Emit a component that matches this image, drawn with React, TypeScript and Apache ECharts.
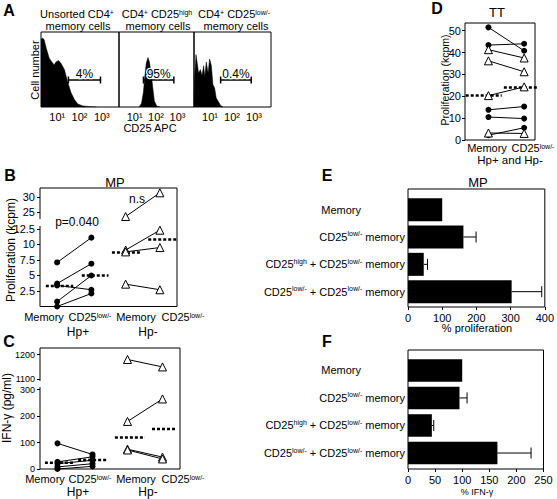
import React, { useEffect, useRef } from 'react';
import * as echarts from 'echarts';

const FONT = '"Liberation Sans", Arial, Helvetica, sans-serif';

// ---------- Panel A: CD25 APC histograms ([log10 CD25 APC, % of max count])
const histUnsorted: number[][] = [
  [0.27, 90], [0.33, 92], [0.41, 90], [0.51, 78], [0.64, 65], [0.76, 60], [0.86, 56], [0.94, 60],
  [1.06, 62], [1.17, 58], [1.32, 50], [1.47, 33], [1.62, 19], [1.77, 10], [1.92, 4], [2.15, 1.5],
  [2.45, 0.5], [2.76, 0],
];
const histHigh: number[][] = [
  [1.21, 0], [1.32, 5], [1.41, 20], [1.47, 40], [1.54, 58], [1.62, 66], [1.69, 60], [1.77, 45],
  [1.85, 25], [1.92, 8], [2.04, 1], [2.19, 0],
];
const histLow: number[][] = [
  [0.27, 0], [0.3, 40], [0.36, 70], [0.42, 58], [0.48, 45], [0.56, 50], [0.63, 42], [0.71, 55],
  [0.76, 40], [0.83, 60], [0.91, 45], [0.98, 64], [1.06, 55], [1.13, 30], [1.21, 25], [1.28, 12],
  [1.36, 8], [1.48, 2], [1.59, 0],
];
const histGateStart = [1.5, 1.41, 1.48];
const histGateEnd = [2.94, 2.83, 2.87];
const histGateLevel = [36, 36, 36];
const histGateLabels = ['4%', '95%', '0.4%'];
const histTickValues = [1, 2, 3];
const histTickLabels = ['10¹', '10²', '10³'];

// ---------- Panel B: MP proliferation (kcpm)
const bHpPosMemory = [7.1, 3.7, 3.4, 0.8, 0.0];
const bHpPosCd25 = [11.1, 6.9, 2.7, 5.0, 2.1];
const bHpNegMemory = [23.6, 9.1, 8.8, 3.6];
const bHpNegCd25 = [31.5, 12.3, 9.5, 2.7];
const bMedians = [3.3, 5.0, 8.7, 10.8];
const bMedianSpan = [[0.17, 0.97], [1.22, 2.0], [2.1, 2.94], [3.16, 3.98]];
const bTickValues = [2.5, 5, 7.5, 10, 12.5, 25, 30];
const bTickLabels = ['2.5', '5', '7.5', '10', '12.5', '25', '30'];

// ---------- Panel C: IFN-γ (pg/ml)
const cHpPosMemory = [97, 27, 20, 8, 0];
const cHpPosCd25 = [55, 46, 33, 20, 10];
const cHpNegMemory = [1180, 180, 75, 72];
const cHpNegCd25 = [1150, 265, 45, 38];
const cMedians = [24, 34, 119, 151];
const cMedianSpan = [[0.14, 0.94], [1.09, 1.94], [2.14, 3.0], [3.2, 3.91]];
const cTickValues = [0, 100, 200, 300, 1100, 1200];
const cTickLabels = ['0', '100', '200', '300', '1100', '1200'];

// ---------- Panel D: TT proliferation (kcpm)
const dMemory = [51.5, 43.4, 41.3, 36.2, 20.3, 13.8, 10.5, 3.2, 2.2];
const dCd25 = [40.8, 44.0, 37.5, 31.2, 24.3, 15.3, 9.8, 3.0, 5.6];
const dHp = ['+', '+', '-', '-', '-', '+', '+', '-', '+'];
const dMedians = [20.3, 24.0];
const dMedianSpan = [[0.02, 1.05], [1.11, 2.09]];
const dTickValues = [0, 10, 20, 30, 40, 50];

// ---------- Panels E and F: bars
const barLabels = [
  '{m|Memory}',
  'CD25{s|low/-} memory',
  'CD25{s|high} + CD25{s|low/-} memory',
  'CD25{s|low/-} + CD25{s|low/-} memory',
];
const eValues = [100, 162, 46, 303];
const eErrors = [0, 37, 11, 88];
const eTickValues = [0, 100, 200, 300, 400];
const fValues = [100, 95, 44, 165];
const fErrors = [0, 14, 3.5, 62];
const fTickValues = [0, 50, 100, 150, 200, 250];

// broken-axis transforms
const tB = (v: number) => (v <= 12.5 ? v : 15.18 + (v - 25) * 0.484);
const tC = (v: number) => (v <= 300 ? v : 339.2 + (v - 1100) * 0.94);

const supRich = {
  s: { fontSize: 7, fontFamily: FONT, verticalAlign: 'top', lineHeight: 8, color: '#000' },
  m: { fontSize: 11, fontFamily: FONT, padding: [0, 44, 0, 0], color: '#000' },
};

function T(text: string, x: number, y: number, o: any = {}) {
  return {
    type: 'text',
    x,
    y,
    rotation: o.rot || 0,
    silent: true,
    style: {
      text,
      fill: '#000',
      fontSize: o.size || 11,
      fontFamily: FONT,
      fontWeight: o.bold ? 'bold' : 'normal',
      align: o.align || 'center',
      verticalAlign: 'middle',
      lineHeight: o.lh,
      rich: o.rich,
    },
  };
}

function pairSeries(gi: number, x0: number, x1: number, a: number, b: number, hp: string) {
  const pos = hp === '+';
  return {
    type: 'line',
    xAxisIndex: gi,
    yAxisIndex: gi,
    data: [[x0, a], [x1, b]],
    symbol: pos ? 'circle' : 'triangle',
    symbolSize: pos ? 6 : 8,
    showSymbol: true,
    itemStyle: pos ? { color: '#000' } : { color: '#fff', borderColor: '#000', borderWidth: 1 },
    lineStyle: { color: '#000', width: 1 },
    clip: false,
    silent: true,
    z: pos ? 3 : 4,
  };
}

function medianSeries(gi: number, span: number[], v: number) {
  return {
    type: 'line',
    xAxisIndex: gi,
    yAxisIndex: gi,
    data: [[span[0], v], [span[1], v]],
    symbol: 'none',
    lineStyle: { color: '#000', width: 2.5, type: [3, 2] },
    clip: false,
    silent: true,
    z: 2,
  };
}

function barSeries(gi: number, values: number[], errors: number[], barH: number, capH: number) {
  return {
    type: 'custom',
    xAxisIndex: gi,
    yAxisIndex: gi,
    data: values.map((v, i) => [v, i, errors[i]]),
    encode: { x: 0, y: 1 },
    clip: false,
    silent: true,
    renderItem: (_p: any, api: any) => {
      const v = api.value(0);
      const i = api.value(1);
      const e = api.value(2);
      const p0 = api.coord([0, i]);
      const p1 = api.coord([v, i]);
      const children: any[] = [
        { type: 'rect', shape: { x: p0[0], y: p0[1] - barH / 2, width: p1[0] - p0[0], height: barH }, style: { fill: '#000' } },
      ];
      if (e > 0) {
        const pe = api.coord([v + e, i]);
        children.push({ type: 'line', shape: { x1: p1[0], y1: p1[1], x2: pe[0], y2: pe[1] }, style: { stroke: '#000', lineWidth: 1 } });
        children.push({ type: 'line', shape: { x1: pe[0], y1: pe[1] - capH, x2: pe[0], y2: pe[1] + capH }, style: { stroke: '#000', lineWidth: 1 } });
      }
      return { type: 'group', children };
    },
  };
}

function gateSeries(gi: number) {
  return {
    type: 'custom',
    xAxisIndex: gi,
    yAxisIndex: gi,
    data: [[histGateStart[gi], histGateEnd[gi], histGateLevel[gi]]],
    clip: false,
    silent: true,
    z: 5,
    renderItem: (_p: any, api: any) => {
      const a = api.coord([api.value(0), api.value(2)]);
      const b = api.coord([api.value(1), api.value(2)]);
      const st = { stroke: '#000', lineWidth: 1.5 };
      return {
        type: 'group',
        children: [
          { type: 'line', shape: { x1: a[0], y1: a[1], x2: b[0], y2: b[1] }, style: st },
          { type: 'line', shape: { x1: a[0], y1: a[1] - 3.5, x2: a[0], y2: a[1] + 3.5 }, style: st },
          { type: 'line', shape: { x1: b[0], y1: b[1] - 3.5, x2: b[0], y2: b[1] + 3.5 }, style: st },
          {
            type: 'text',
            x: (a[0] + b[0]) / 2,
            y: a[1] - 0.5,
            style: {
              text: histGateLabels[gi], fill: '#000', fontSize: 12, fontFamily: FONT, align: 'center', verticalAlign: 'bottom',
              stroke: '#fff', lineWidth: 2.5,
            },
          },
        ],
      };
    },
  };
}

const labelFromTicks = (vals: number[], labels: string[]) => (v: number) => {
  const i = vals.findIndex((x) => Math.abs(x - v) < 1e-6);
  return i >= 0 ? labels[i] : '';
};

export default function App() {
  const ref = useRef<HTMLDivElement>(null);

  useEffect(() => {
    document.body.style.margin = '0';
    const chart = echarts.init(ref.current!, null, { renderer: 'svg' });

    const border = { show: true, borderColor: '#000', borderWidth: 1, backgroundColor: 'transparent' };
    const grids = [
      { left: 41, top: 32, width: 78, height: 75, ...border },
      { left: 119, top: 32, width: 75, height: 75, ...border },
      { left: 194, top: 32, width: 77, height: 75, ...border },
      { left: 40, top: 188, width: 137, height: 118.5, ...border },
      { left: 40, top: 348, width: 140, height: 121, ...border },
      { left: 465, top: 23, width: 70, height: 117, ...border },
      { left: 408, top: 189, width: 138, height: 118, ...border },
      { left: 408, top: 350, width: 135.5, height: 119, ...border },
    ];

    const noLine = { show: false, onZero: false };
    const hidden = { show: false };
    const lbl = { color: '#000', fontSize: 11, fontFamily: FONT };
    const tick = (vals: number[]) => ({ show: true, length: 3, customValues: vals, lineStyle: { color: '#000', width: 1 } });

    const bPos = bTickValues.map(tB);
    const cPos = cTickValues.map(tC);

    const xAxes: any[] = [
      ...[0, 1, 2].map((i) => ({
        type: 'value', gridIndex: i, min: 0.27, max: 3.77,
        axisLine: noLine, axisTick: hidden, splitLine: hidden,
        axisLabel: { ...lbl, margin: 4, customValues: histTickValues, formatter: labelFromTicks(histTickValues, histTickLabels) },
      })),
      { type: 'value', gridIndex: 3, min: 0, max: 4, show: false, axisLine: noLine },
      { type: 'value', gridIndex: 4, min: 0, max: 4, show: false, axisLine: noLine },
      { type: 'value', gridIndex: 5, min: 0, max: 2, show: false, axisLine: noLine },
      {
        type: 'value', gridIndex: 6, min: 0, max: 400, axisLine: noLine, splitLine: hidden,
        axisTick: tick(eTickValues), axisLabel: { ...lbl, margin: 5, customValues: eTickValues },
      },
      {
        type: 'value', gridIndex: 7, min: 0, max: 250, axisLine: noLine, splitLine: hidden,
        axisTick: tick(fTickValues), axisLabel: { ...lbl, margin: 5, customValues: fTickValues },
      },
    ];

    const yAxes: any[] = [
      ...[0, 1, 2].map((i) => ({ type: 'value', gridIndex: i, min: 0, max: 100, show: false, axisLine: noLine })),
      {
        type: 'value', gridIndex: 3, min: 0, max: 19.1, axisLine: noLine, splitLine: hidden,
        axisTick: tick(bPos), axisLabel: { ...lbl, margin: 5, customValues: bPos, formatter: labelFromTicks(bPos, bTickLabels) },
      },
      {
        type: 'value', gridIndex: 4, min: 0, max: 457.8, axisLine: noLine, splitLine: hidden,
        axisTick: tick(cPos),
        axisLabel: { ...lbl, fontSize: 9, lineHeight: 8, margin: 5, customValues: cPos, formatter: labelFromTicks(cPos, cTickLabels) },
      },
      {
        type: 'value', gridIndex: 5, min: 0, max: 53.5, axisLine: noLine, splitLine: hidden,
        axisTick: tick(dTickValues), axisLabel: { ...lbl, margin: 4, customValues: dTickValues },
      },
      {
        type: 'value', gridIndex: 6, min: -0.755, max: 3.56, inverse: true, axisLine: noLine, splitLine: hidden, axisTick: hidden,
        axisLabel: { ...lbl, margin: 3, lineHeight: 13, customValues: [0, 1, 2, 3], formatter: (v: number) => barLabels[Math.round(v)], rich: supRich },
      },
      {
        type: 'value', gridIndex: 7, min: -0.74, max: 3.58, inverse: true, axisLine: noLine, splitLine: hidden, axisTick: hidden,
        axisLabel: { ...lbl, margin: 3, lineHeight: 13, customValues: [0, 1, 2, 3], formatter: (v: number) => barLabels[Math.round(v)], rich: supRich },
      },
    ];

    const hist = (gi: number, data: number[][]) => ({
      type: 'line', xAxisIndex: gi, yAxisIndex: gi, data, symbol: 'none', silent: true,
      lineStyle: { color: '#000', width: 0.5 }, areaStyle: { color: '#000', opacity: 1 },
    });

    const series: any[] = [
      hist(0, histUnsorted), hist(1, histHigh), hist(2, histLow),
      gateSeries(0), gateSeries(1), gateSeries(2),
    ];

    bHpPosMemory.forEach((v, i) => series.push(pairSeries(3, 0.5, 1.5, tB(v), tB(bHpPosCd25[i]), '+')));
    bHpNegMemory.forEach((v, i) => series.push(pairSeries(3, 2.5, 3.5, tB(v), tB(bHpNegCd25[i]), '-')));
    bMedians.forEach((v, i) => series.push(medianSeries(3, bMedianSpan[i], tB(v))));

    cHpPosMemory.forEach((v, i) => series.push(pairSeries(4, 0.5, 1.5, tC(v), tC(cHpPosCd25[i]), '+')));
    cHpNegMemory.forEach((v, i) => series.push(pairSeries(4, 2.5, 3.5, tC(v), tC(cHpNegCd25[i]), '-')));
    cMedians.forEach((v, i) => series.push(medianSeries(4, cMedianSpan[i], tC(v))));

    dMemory.forEach((v, i) => series.push(pairSeries(5, 0.67, 1.69, v, dCd25[i], dHp[i])));
    dMedians.forEach((v, i) => series.push(medianSeries(5, dMedianSpan[i], v)));

    series.push(barSeries(6, eValues, eErrors, 23, 5.5));
    series.push(barSeries(7, fValues, fErrors, 22.5, 5.5));

    const sup = { s: { fontSize: 7, fontFamily: FONT, verticalAlign: 'top', lineHeight: 8, fill: '#000' } };

    const graphic: any[] = [
      // Panel A
      T('A', 9, 10, { size: 16, bold: true }),
      T('Unsorted CD4{s|+}', 77, 14, { rich: sup }),
      T('memory cells', 78, 26),
      T('CD4{s|+} CD25{s|high}', 157, 14, { rich: sup }),
      T('memory cells', 158, 26),
      T('CD4{s|+} CD25{s|low/-}', 234, 14, { rich: sup }),
      T('memory cells', 236, 26),
      T('Cell number', 35, 70, { rot: Math.PI / 2, size: 11 }),
      T('CD25 APC', 150, 128),
      // Panel B
      T('B', 10, 175, { size: 16, bold: true }),
      T('MP', 115, 182, { size: 13 }),
      T('p=0.040', 77, 222, { size: 12 }),
      T('n.s', 137, 199, { size: 12 }),
      T('Proliferation (kcpm)', 11, 250, { rot: Math.PI / 2, size: 12 }),
      T('Memory', 44, 317),
      T('CD25{s|low/-}', 90, 317, { rich: sup }),
      T('Memory', 136, 317),
      T('CD25{s|low/-}', 183, 317, { rich: sup }),
      T('Hp+', 78, 332, { size: 12 }),
      T('Hp-', 148, 332, { size: 12 }),
      { type: 'rect', shape: { x: 37, y: 219, width: 6, height: 7 }, style: { fill: '#fff' }, silent: true },
      // Panel C
      T('C', 9, 341, { size: 16, bold: true }),
      T('IFN-γ (pg/ml)', 7, 408, { rot: Math.PI / 2, size: 12, lh: 10 }),
      T('Memory', 45, 479, { lh: 10 }),
      T('CD25{s|low/-}', 90, 479, { rich: sup, lh: 10 }),
      T('Memory', 136, 479, { lh: 10 }),
      T('CD25{s|low/-}', 183, 479, { rich: sup, lh: 10 }),
      T('Hp+', 78, 492, { size: 12, lh: 11 }),
      T('Hp-', 148, 492, { size: 12, lh: 11 }),
      { type: 'rect', shape: { x: 37, y: 381, width: 6, height: 6 }, style: { fill: '#fff' }, silent: true },
      // Panel D
      T('D', 437, 8, { size: 16, bold: true }),
      T('TT', 497, 12, { size: 13 }),
      T('Proliferation (kcpm)', 445, 80, { rot: Math.PI / 2, size: 10.5 }),
      T('Memory', 487, 148),
      T('CD25{s|low/-}', 533, 148, { rich: sup }),
      T('Hp+ and Hp-', 510, 160, { size: 11.5 }),
      // Panel E
      T('E', 327, 175, { size: 16, bold: true }),
      T('MP', 478, 182, { size: 13 }),
      T('% proliferation', 477, 328),
      // Panel F
      T('F', 327, 341, { size: 16, bold: true }),
      T('% IFN-γ', 477, 492, { size: 9 }),
    ];

    chart.setOption({
      animation: false,
      backgroundColor: '#fff',
      grid: grids,
      xAxis: xAxes,
      yAxis: yAxes,
      series,
      graphic,
    });

    return () => chart.dispose();
  }, []);

  return <div ref={ref} style={{ width: 557, height: 499 }} />;
}
